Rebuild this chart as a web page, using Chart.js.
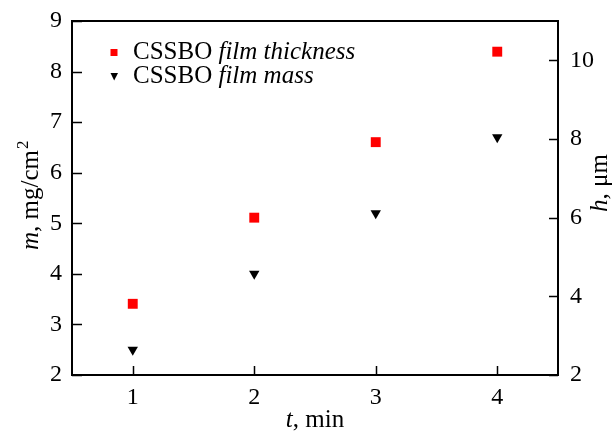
<!DOCTYPE html>
<html>
<head>
<meta charset="utf-8">
<script src="https://cdn.jsdelivr.net/npm/chart.js@4.4.1/dist/chart.umd.min.js"></script>
<style>
  html, body { margin: 0; padding: 0; background: #fff; }
  #wrap { width: 616px; height: 432px; position: relative; }
</style>
</head>
<body>
<div id="wrap"><canvas id="filmChart"></canvas></div>
<script>
// Film data
const times = [1, 2, 3, 4];                  // t, min
const thickness = [3.81, 6.0, 7.92, 10.22];  // h, um (right axis)
const mass = [2.5, 4.0, 5.2, 6.7];           // m, mg/cm2 (left axis)

const xTicks = [1, 2, 3, 4];
const mTicks = [2, 3, 4, 5, 6, 7, 8, 9];
const hTicks = [2, 4, 6, 8, 10];

const legendLabels = ['film thickness', 'film mass'];

const SERIF = '"Liberation Serif", "Times New Roman", serif';

function setTicks(values) {
    return function(scale) {
        scale.ticks = values.map(v => ({ value: v }));
    };
}

// frame, inward ticks, titles and legend
const decorPlugin = {
    id: 'decor',
    afterDraw(chart) {
        const ctx = chart.ctx;
        const a = chart.chartArea;
        const sx = chart.scales.x, sm = chart.scales.m, sh = chart.scales.h;
        ctx.save();
        ctx.strokeStyle = '#000';
        ctx.lineWidth = 2;
        ctx.strokeRect(a.left, a.top, a.right - a.left, a.bottom - a.top);

        ctx.lineWidth = 1.5;
        ctx.beginPath();
        xTicks.forEach(v => {
            const px = Math.round(sx.getPixelForValue(v)) + 0.5;
            ctx.moveTo(px, a.bottom); ctx.lineTo(px, a.bottom - 9);
        });
        mTicks.forEach(v => {
            const py = Math.round(sm.getPixelForValue(v)) + 0.5;
            ctx.moveTo(a.left, py); ctx.lineTo(a.left + 10, py);
        });
        hTicks.forEach(v => {
            const py = Math.round(sh.getPixelForValue(v)) + 0.5;
            ctx.moveTo(a.right, py); ctx.lineTo(a.right - 9, py);
        });
        ctx.stroke();

        ctx.fillStyle = '#000';
        ctx.textBaseline = 'alphabetic';
        ctx.textAlign = 'left';

        const it = 'italic 25px ' + SERIF, up = '25px ' + SERIF;

        // x title
        ctx.font = it;
        const wT = ctx.measureText('t').width;
        ctx.font = up;
        const wRest = ctx.measureText(', min').width;
        let x0 = 315 - (wT + wRest) / 2;
        ctx.font = it; ctx.fillText('t', x0, 427);
        ctx.font = up; ctx.fillText(', min', x0 + wT, 427);

        // left title, rotated
        ctx.save();
        ctx.translate(38, 250);
        ctx.rotate(-Math.PI / 2);
        ctx.font = it; ctx.fillText('m', 0, 0);
        let off = ctx.measureText('m').width;
        ctx.font = up; ctx.fillText(', mg/cm', off, 0);
        off += ctx.measureText(', mg/cm').width;
        ctx.font = '17px ' + SERIF; ctx.fillText('2', off + 1, -10);
        ctx.restore();

        // right title, rotated
        ctx.save();
        ctx.translate(607, 212);
        ctx.rotate(-Math.PI / 2);
        ctx.font = it; ctx.fillText('h', 0, 0);
        off = ctx.measureText('h').width;
        ctx.font = up; ctx.fillText(', \u03bcm', off, 0);
        ctx.restore();

        // legend
        ctx.fillStyle = '#ff0000';
        ctx.fillRect(110.5, 49, 7, 7);
        ctx.fillStyle = '#000';
        ctx.beginPath();
        ctx.moveTo(110.5, 73); ctx.lineTo(118, 73); ctx.lineTo(114.2, 80.5);
        ctx.closePath(); ctx.fill();
        [59, 83].forEach((y, i) => {
            ctx.font = up;
            ctx.fillText('CSSBO ', 133, y);
            const w = ctx.measureText('CSSBO ').width;
            ctx.font = it;
            ctx.fillText(legendLabels[i], 133 + w, y);
        });
        ctx.restore();
    }
};

const tickFont = { family: SERIF, size: 24 };

function drawChart() {
    new Chart(document.getElementById('filmChart'), {
        type: 'scatter',
        data: {
            datasets: [{
                label: 'CSSBO film thickness',
                data: times.map((t, i) => ({ x: t, y: thickness[i] })),
                yAxisID: 'h',
                pointStyle: 'rect',
                pointRadius: 7,
                pointHoverRadius: 7,
                backgroundColor: '#ff0000',
                borderWidth: 0
            }, {
                label: 'CSSBO film mass',
                data: times.map((t, i) => ({ x: t, y: mass[i] })),
                yAxisID: 'm',
                pointStyle: 'triangle',
                rotation: 180,
                pointRadius: 6,
                pointHoverRadius: 6,
                backgroundColor: '#000',
                borderWidth: 0
            }]
        },
        options: {
            responsive: true,
            maintainAspectRatio: false,
            animation: false,
            layout: { padding: 0 },
            plugins: { legend: { display: false }, tooltip: { enabled: false } },
            scales: {
                x: {
                    type: 'linear',
                    min: 0.5, max: 4.5,
                    afterBuildTicks: setTicks(xTicks),
                    afterFit(s) { s.height = 57; },
                    grid: { display: false, drawTicks: false },
                    border: { display: false },
                    ticks: { color: '#000', font: tickFont, padding: 8 }
                },
                m: {
                    type: 'linear', position: 'left',
                    min: 2, max: 9,
                    afterBuildTicks: setTicks(mTicks),
                    afterFit(s) { s.width = 72; s.paddingTop = 21; },
                    grid: { display: false, drawTicks: false },
                    border: { display: false },
                    ticks: { color: '#000', font: tickFont, padding: 10 }
                },
                h: {
                    type: 'linear', position: 'right',
                    min: 2, max: 11,
                    afterBuildTicks: setTicks(hTicks),
                    afterFit(s) { s.width = 58; s.paddingTop = 21; },
                    grid: { display: false, drawTicks: false },
                    border: { display: false },
                    ticks: { color: '#000', font: tickFont, padding: 12 }
                }
            }
        },
        plugins: [decorPlugin]
    });
}

Promise.all([
    document.fonts.load('24px "Liberation Serif"'),
    document.fonts.load('italic 24px "Liberation Serif"')
]).then(drawChart, drawChart);
</script>
</body>
</html>
